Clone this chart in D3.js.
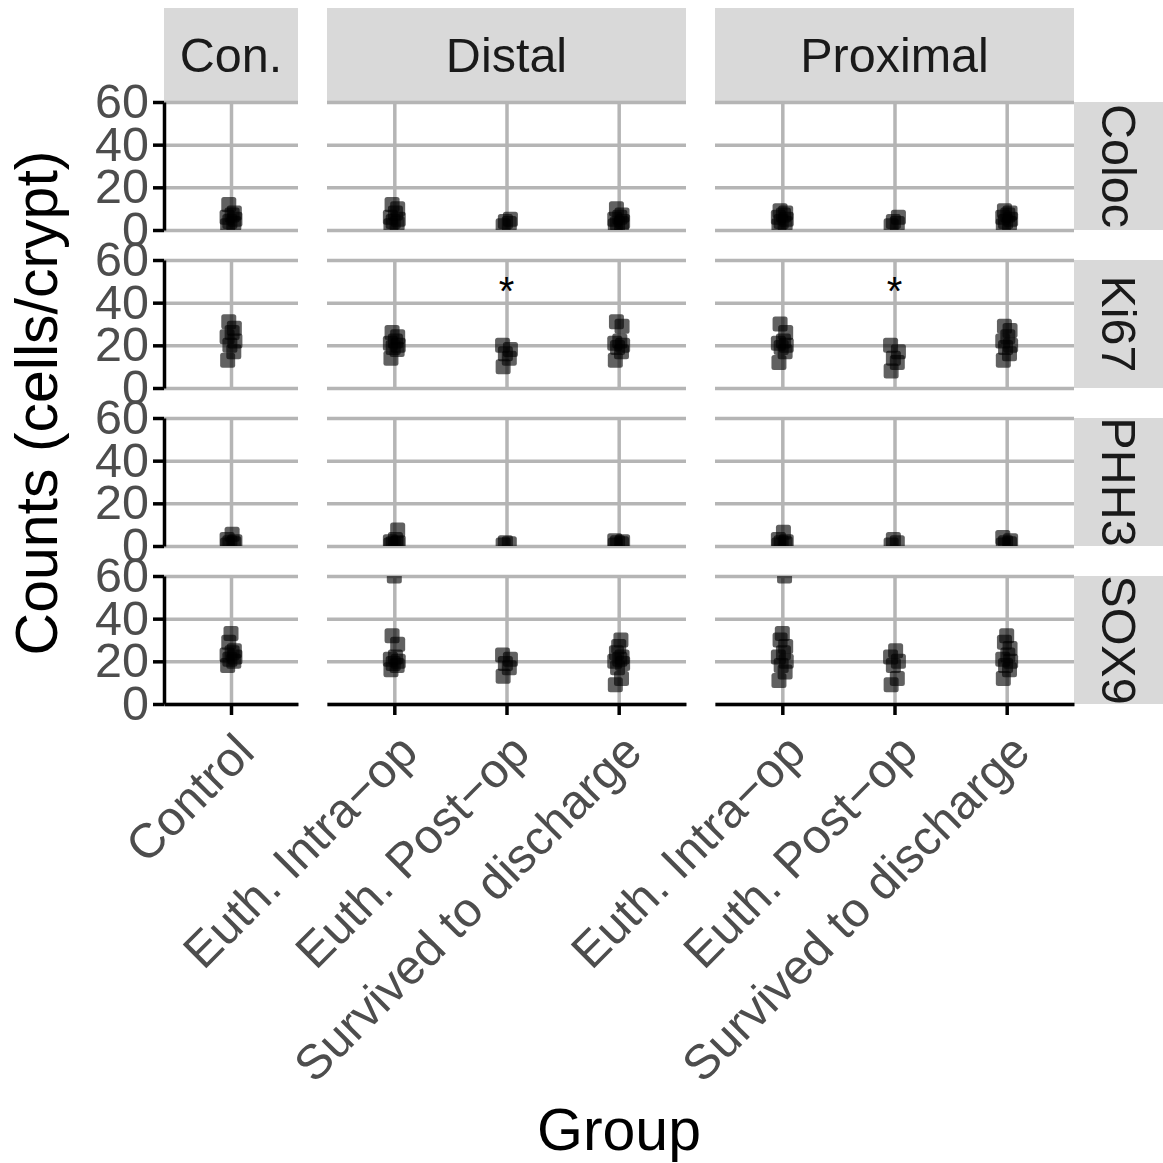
<!DOCTYPE html>
<html>
<head>
<meta charset="utf-8">
<script src="https://cdn.jsdelivr.net/npm/d3@7"></script>
<style>
  body { margin: 0; background: #fff; }
  svg { display: block; font-family: "Liberation Sans", Arial, Helvetica, sans-serif; }
</style>
</head>
<body>
<svg id="chart" width="1163" height="1163"></svg>
<script>
// ---------------- data ----------------
const markers = ["Coloc", "Ki67", "PHH3", "SOX9"];
const locations = ["Con.", "Distal", "Proximal"];
const controlGroups = ["Control"];
const treatGroups = ["Euth. Intra\u2212op", "Euth. Post\u2212op", "Survived to discharge"];
const yTicks = [0, 20, 40, 60];

// values: [marker][location][group] -> counts (cells/crypt)
const colocCon      = [2, 3, 4, 5, 6, 7, 8, 12];
const colocDistal   = [[2, 3, 4, 5, 6, 8, 10, 12], [2, 3, 4, 5], [2, 3, 3, 4, 5, 6, 7, 10]];
const colocProximal = [[2, 3, 4, 5, 6, 7, 8, 9], [2, 3, 4, 6], [2, 3, 4, 5, 6, 7, 8, 9]];

const ki67Con      = [13, 17, 20, 22, 24, 26, 28, 31];
const ki67Distal   = [[14, 18, 19, 20, 21, 22, 24, 26], [10, 14, 16, 18, 20], [13, 17, 19, 20, 21, 22, 29, 31]];
const ki67Proximal = [[12, 17, 19, 20, 21, 22, 26, 30], [8, 12, 14, 17, 20], [13, 16, 19, 20, 22, 24, 27, 29]];

const phh3Con      = [0.5, 1, 1.5, 2, 3, 5.5];
const phh3Distal   = [[0.5, 1, 1, 1.5, 2, 3, 7.5], [0.5, 1, 1.5], [0.5, 1, 1.5, 2, 2.5]];
const phh3Proximal = [[0.5, 1, 1.5, 2, 3, 6.5], [0.5, 1.5, 3], [0.5, 1, 1.5, 2.5, 4]];

const sox9Con      = [18, 20, 21, 22, 23, 24, 25, 29, 33];
const sox9Distal   = [[16, 18, 19, 20, 21, 22, 28, 32, 60], [13, 17, 19, 21, 23], [9, 12, 17, 19, 20, 21, 22, 24, 27, 30]];
const sox9Proximal = [[11, 15, 18, 20, 22, 24, 27, 30, 33, 60], [9, 12, 18, 20, 22, 25], [12, 16, 18, 20, 21, 23, 26, 29, 32]];

// small horizontal jitter (fraction of a category step), cycled over points
const jitter = [-0.03, 0.025, -0.01, 0.035, -0.035, 0.01, 0.03, -0.02, 0.0, 0.02];

// significance markers: [marker, location, group, y]
const stars = [["Ki67", "Distal", "Euth. Post\u2212op", 50], ["Ki67", "Proximal", "Euth. Post\u2212op", 50]];

const cellData = {
  Coloc: { "Con.": [colocCon], Distal: colocDistal, Proximal: colocProximal },
  Ki67:  { "Con.": [ki67Con],  Distal: ki67Distal,  Proximal: ki67Proximal },
  PHH3:  { "Con.": [phh3Con],  Distal: phh3Distal,  Proximal: phh3Proximal },
  SOX9:  { "Con.": [sox9Con],  Distal: sox9Distal,  Proximal: sox9Proximal }
};
const groupsFor = { "Con.": controlGroups, Distal: treatGroups, Proximal: treatGroups };

// ---------------- layout ----------------
const svg = d3.select("#chart");
const colX = { "Con.": [164, 298], Distal: [327, 686], Proximal: [715, 1074] };
const rowTop0 = 102, rowH = 128, rowGap = 30;
const stripTop = 8, stripH = 94, stripRW = 94;
const gridCol = "#b5b5b5", gridW = 3.5;
const tickCol = "#4d4d4d";
const fsTick = 48.5, fsStrip = 48.5, fsTitle = 59;

const xScales = {};
locations.forEach(loc => {
  xScales[loc] = d3.scalePoint().domain(groupsFor[loc]).range(colX[loc]).padding(0.6);
});
const yScales = markers.map((m, i) => {
  const top = rowTop0 + i * (rowH + rowGap);
  return d3.scaleLinear().domain([0, 60]).range([top + rowH, top]);
});

const defs = svg.append("defs");

// top strips
locations.forEach(loc => {
  const [x0, x1] = colX[loc];
  svg.append("rect").attr("x", x0).attr("y", stripTop).attr("width", x1 - x0).attr("height", stripH).attr("fill", "#d9d9d9");
  svg.append("text").attr("x", (x0 + x1) / 2).attr("y", stripTop + stripH / 2).attr("dy", "0.36em")
    .attr("text-anchor", "middle").attr("font-size", fsStrip).attr("fill", "#1a1a1a").text(loc);
});

markers.forEach((m, ri) => {
  const y = yScales[ri];
  const top = y.range()[1], bot = y.range()[0];
  // right strip
  const sx = colX.Proximal[1];
  svg.append("rect").attr("x", sx).attr("y", top).attr("width", stripRW).attr("height", rowH).attr("fill", "#d9d9d9");
  svg.append("text").attr("transform", `translate(${sx + stripRW / 2 - 2},${(top + bot) / 2}) rotate(90)`).attr("dy", "0.36em")
    .attr("text-anchor", "middle").attr("font-size", fsStrip).attr("fill", "#1a1a1a").text(m);

  locations.forEach((loc, ci) => {
    const x = xScales[loc];
    const [x0, x1] = colX[loc];
    const g = svg.append("g");
    const clipId = `clip-${ri}-${ci}`;
    defs.append("clipPath").attr("id", clipId).append("rect")
      .attr("x", x0).attr("y", top).attr("width", x1 - x0).attr("height", rowH);

    // horizontal grid
    g.append("g").attr("transform", `translate(${x0},0)`)
      .call(d3.axisLeft(y).tickValues(yTicks).tickSize(-(x1 - x0)).tickFormat(""))
      .call(a => a.select(".domain").remove())
      .call(a => a.selectAll("line").attr("stroke", gridCol).attr("stroke-width", gridW));
    // vertical grid
    g.append("g").attr("transform", `translate(0,${bot})`)
      .call(d3.axisBottom(x).tickSize(-rowH).tickFormat(""))
      .call(a => a.select(".domain").remove())
      .call(a => a.selectAll("line").attr("stroke", gridCol).attr("stroke-width", gridW));

    // points
    const pts = [];
    groupsFor[loc].forEach((grp, gi) => {
      cellData[m][loc][gi].forEach((v, k) => pts.push({ grp, v, j: jitter[k % jitter.length] }));
    });
    const step = x.step();
    const ps = 15;
    g.append("g").attr("clip-path", `url(#${clipId})`)
      .selectAll("rect").data(pts).join("rect")
      .attr("x", d => x(d.grp) + d.j * step - ps / 2)
      .attr("y", d => y(d.v) - ps / 2)
      .attr("width", ps).attr("height", ps).attr("rx", 2.5)
      .attr("fill", "#000").attr("fill-opacity", 0.62);

    // stars
    stars.filter(s => s[0] === m && s[1] === loc).forEach(s => {
      g.append("text").attr("x", x(s[2])).attr("y", y(s[3])).attr("dy", "0.6em")
        .attr("text-anchor", "middle").attr("font-size", 40).attr("fill", "#000").text("*");
    });

    // left axis (first column only)
    if (ci === 0) {
      const ax = g.append("g").attr("transform", `translate(${x0},0)`)
        .call(d3.axisLeft(y).tickValues(yTicks).tickSize(11).tickSizeOuter(0).tickPadding(4));
      ax.select(".domain").attr("stroke", "#000").attr("stroke-width", 3.5);
      ax.selectAll(".tick line").attr("stroke", "#000").attr("stroke-width", 3.5);
      ax.selectAll(".tick text").attr("font-size", fsTick).attr("fill", tickCol).attr("font-family", null);
    }
    // bottom axis (last row only)
    if (ri === markers.length - 1) {
      const ax = g.append("g").attr("transform", `translate(0,${bot})`)
        .call(d3.axisBottom(x).tickSize(11).tickSizeOuter(0).tickFormat(""));
      ax.select(".domain").attr("stroke", "#000").attr("stroke-width", 3.5);
      ax.selectAll(".tick line").attr("stroke", "#000").attr("stroke-width", 3.5);
      groupsFor[loc].forEach(grp => {
        g.append("text")
          .attr("transform", `translate(${x(grp) + 1},${bot + 26}) rotate(-45)`)
          .attr("dy", "0.72em").attr("text-anchor", "end")
          .attr("font-size", fsTick).attr("fill", tickCol).text(grp);
      });
    }
  });
});

// axis titles
svg.append("text").attr("transform", `translate(57,${(rowTop0 + yScales[3].range()[0]) / 2}) rotate(-90)`)
  .attr("text-anchor", "middle").attr("font-size", fsTitle).attr("fill", "#000").text("Counts (cells/crypt)");
svg.append("text").attr("x", (colX["Con."][0] + colX.Proximal[1]) / 2).attr("y", 1150)
  .attr("text-anchor", "middle").attr("font-size", fsTitle).attr("fill", "#000").text("Group");
</script>
</body>
</html>
